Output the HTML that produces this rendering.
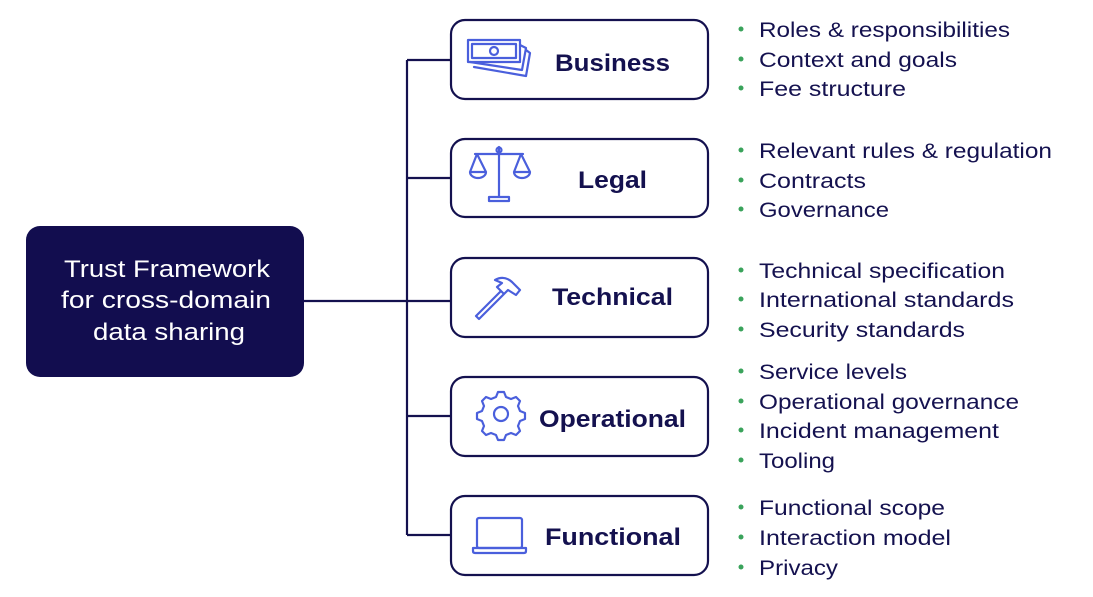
<!DOCTYPE html>
<html><head><meta charset="utf-8"><style>
html,body{margin:0;padding:0;background:#fff;}
svg{display:block;}
.b{font-family:"Liberation Sans",sans-serif;font-size:21px;fill:#14114f;}
.l{font-family:"Liberation Sans",sans-serif;font-size:24px;font-weight:bold;fill:#14114f;}
.d{fill:#3aa35b;}
.ic{fill:none;stroke:#4a5fdc;stroke-width:2.2;stroke-linejoin:round;stroke-linecap:round;}
</style></head><body>
<svg width="1093" height="597" viewBox="0 0 1093 597" xmlns="http://www.w3.org/2000/svg">
<g stroke="#14114f" stroke-width="2.2" fill="none">
<line x1="304" y1="301" x2="451" y2="301"/>
<line x1="407" y1="60" x2="407" y2="535"/>
<line x1="407" y1="60" x2="451" y2="60"/>
<line x1="407" y1="178" x2="451" y2="178"/>
<line x1="407" y1="416" x2="451" y2="416"/>
<line x1="407" y1="535" x2="451" y2="535"/>
<rect x="451" y="20" width="257" height="79" rx="14"/>
<rect x="451" y="139" width="257" height="78" rx="14"/>
<rect x="451" y="258" width="257" height="79" rx="14"/>
<rect x="451" y="377" width="257" height="79" rx="14"/>
<rect x="451" y="496" width="257" height="79" rx="14"/>
</g>
<rect x="26" y="226" width="278" height="151" rx="14" fill="#120d4f"/>
<g font-family="Liberation Sans, sans-serif" font-size="24" fill="#fff">
<text x="64" y="277" textLength="206" lengthAdjust="spacingAndGlyphs">Trust Framework</text>
<text x="61" y="308" textLength="210" lengthAdjust="spacingAndGlyphs">for cross-domain</text>
<text x="93" y="340" textLength="152" lengthAdjust="spacingAndGlyphs">data sharing</text>
</g>
<text class="l" x="555" y="71" textLength="115" lengthAdjust="spacingAndGlyphs">Business</text>
<text class="l" x="578" y="188" textLength="69" lengthAdjust="spacingAndGlyphs">Legal</text>
<text class="l" x="552" y="305" textLength="121" lengthAdjust="spacingAndGlyphs">Technical</text>
<text class="l" x="539" y="427" textLength="147" lengthAdjust="spacingAndGlyphs">Operational</text>
<text class="l" x="545" y="545" textLength="136" lengthAdjust="spacingAndGlyphs">Functional</text>
<g class="ic">
<rect x="468" y="40" width="52" height="22"/>
<rect x="472" y="44" width="44" height="14"/>
<circle cx="494" cy="51" r="4"/>
<path d="M520 45 L526 48 L522 70 L470 62"/>
<path d="M526 50 L530 53 L526 76 L474 67"/>
<path d="M499 147 V197 M475 154 H523 M477 154 L470 172 H486 Z M521 154 L514 172 H530 Z M470 172 A8 6 0 0 0 486 172 M514 172 A8 6 0 0 0 530 172 M489 197 H509 V201 H489 Z"/>
<circle cx="499" cy="150" r="2.5"/>
<path d="M476 316 L501 291 L504 294 L479 319 Z M495 280 Q504 275 512 282 L520 290 L516 295 L508 290 L504 294 L497 287 L502 283 Z"/>
<path d="M496 397 l2 -5 h6 l2 5 l5 2 l5 -2 l4 4 l-2 5 l2 5 l5 2 v6 l-5 2 l-2 5 l2 5 l-4 4 l-5 -2 l-5 2 l-2 5 h-6 l-2 -5 l-5 -2 l-5 2 l-4 -4 l2 -5 l-2 -5 l-5 -2 v-6 l5 -2 l2 -5 l-2 -5 l4 -4 l5 2 Z"/>
<circle cx="501" cy="414" r="7"/>
<rect x="477" y="518" width="45" height="30" rx="2"/>
<path d="M473 548 H526 V551 Q526 553 524 553 H475 Q473 553 473 551 Z"/>
</g>
<g class="d">
<circle cx="741" cy="29" r="2.5"/><circle cx="741" cy="59" r="2.5"/><circle cx="741" cy="88" r="2.5"/>
<circle cx="741" cy="150" r="2.5"/><circle cx="741" cy="180" r="2.5"/><circle cx="741" cy="209" r="2.5"/>
<circle cx="741" cy="270" r="2.5"/><circle cx="741" cy="299" r="2.5"/><circle cx="741" cy="329" r="2.5"/>
<circle cx="741" cy="371" r="2.5"/><circle cx="741" cy="401" r="2.5"/><circle cx="741" cy="430" r="2.5"/><circle cx="741" cy="460" r="2.5"/>
<circle cx="741" cy="507" r="2.5"/><circle cx="741" cy="537" r="2.5"/><circle cx="741" cy="567" r="2.5"/>
</g>
<g class="b">
<text x="759" y="37" textLength="251" lengthAdjust="spacingAndGlyphs">Roles &amp; responsibilities</text>
<text x="759" y="67" textLength="198" lengthAdjust="spacingAndGlyphs">Context and goals</text>
<text x="759" y="96" textLength="147" lengthAdjust="spacingAndGlyphs">Fee structure</text>
<text x="759" y="158" textLength="293" lengthAdjust="spacingAndGlyphs">Relevant rules &amp; regulation</text>
<text x="759" y="188" textLength="107" lengthAdjust="spacingAndGlyphs">Contracts</text>
<text x="759" y="217" textLength="130" lengthAdjust="spacingAndGlyphs">Governance</text>
<text x="759" y="278" textLength="246" lengthAdjust="spacingAndGlyphs">Technical specification</text>
<text x="759" y="307" textLength="255" lengthAdjust="spacingAndGlyphs">International standards</text>
<text x="759" y="337" textLength="206" lengthAdjust="spacingAndGlyphs">Security standards</text>
<text x="759" y="379" textLength="148" lengthAdjust="spacingAndGlyphs">Service levels</text>
<text x="759" y="409" textLength="260" lengthAdjust="spacingAndGlyphs">Operational governance</text>
<text x="759" y="438" textLength="240" lengthAdjust="spacingAndGlyphs">Incident management</text>
<text x="759" y="468" textLength="76" lengthAdjust="spacingAndGlyphs">Tooling</text>
<text x="759" y="515" textLength="186" lengthAdjust="spacingAndGlyphs">Functional scope</text>
<text x="759" y="545" textLength="192" lengthAdjust="spacingAndGlyphs">Interaction model</text>
<text x="759" y="575" textLength="79" lengthAdjust="spacingAndGlyphs">Privacy</text>
</g>
</svg>
</body></html>
